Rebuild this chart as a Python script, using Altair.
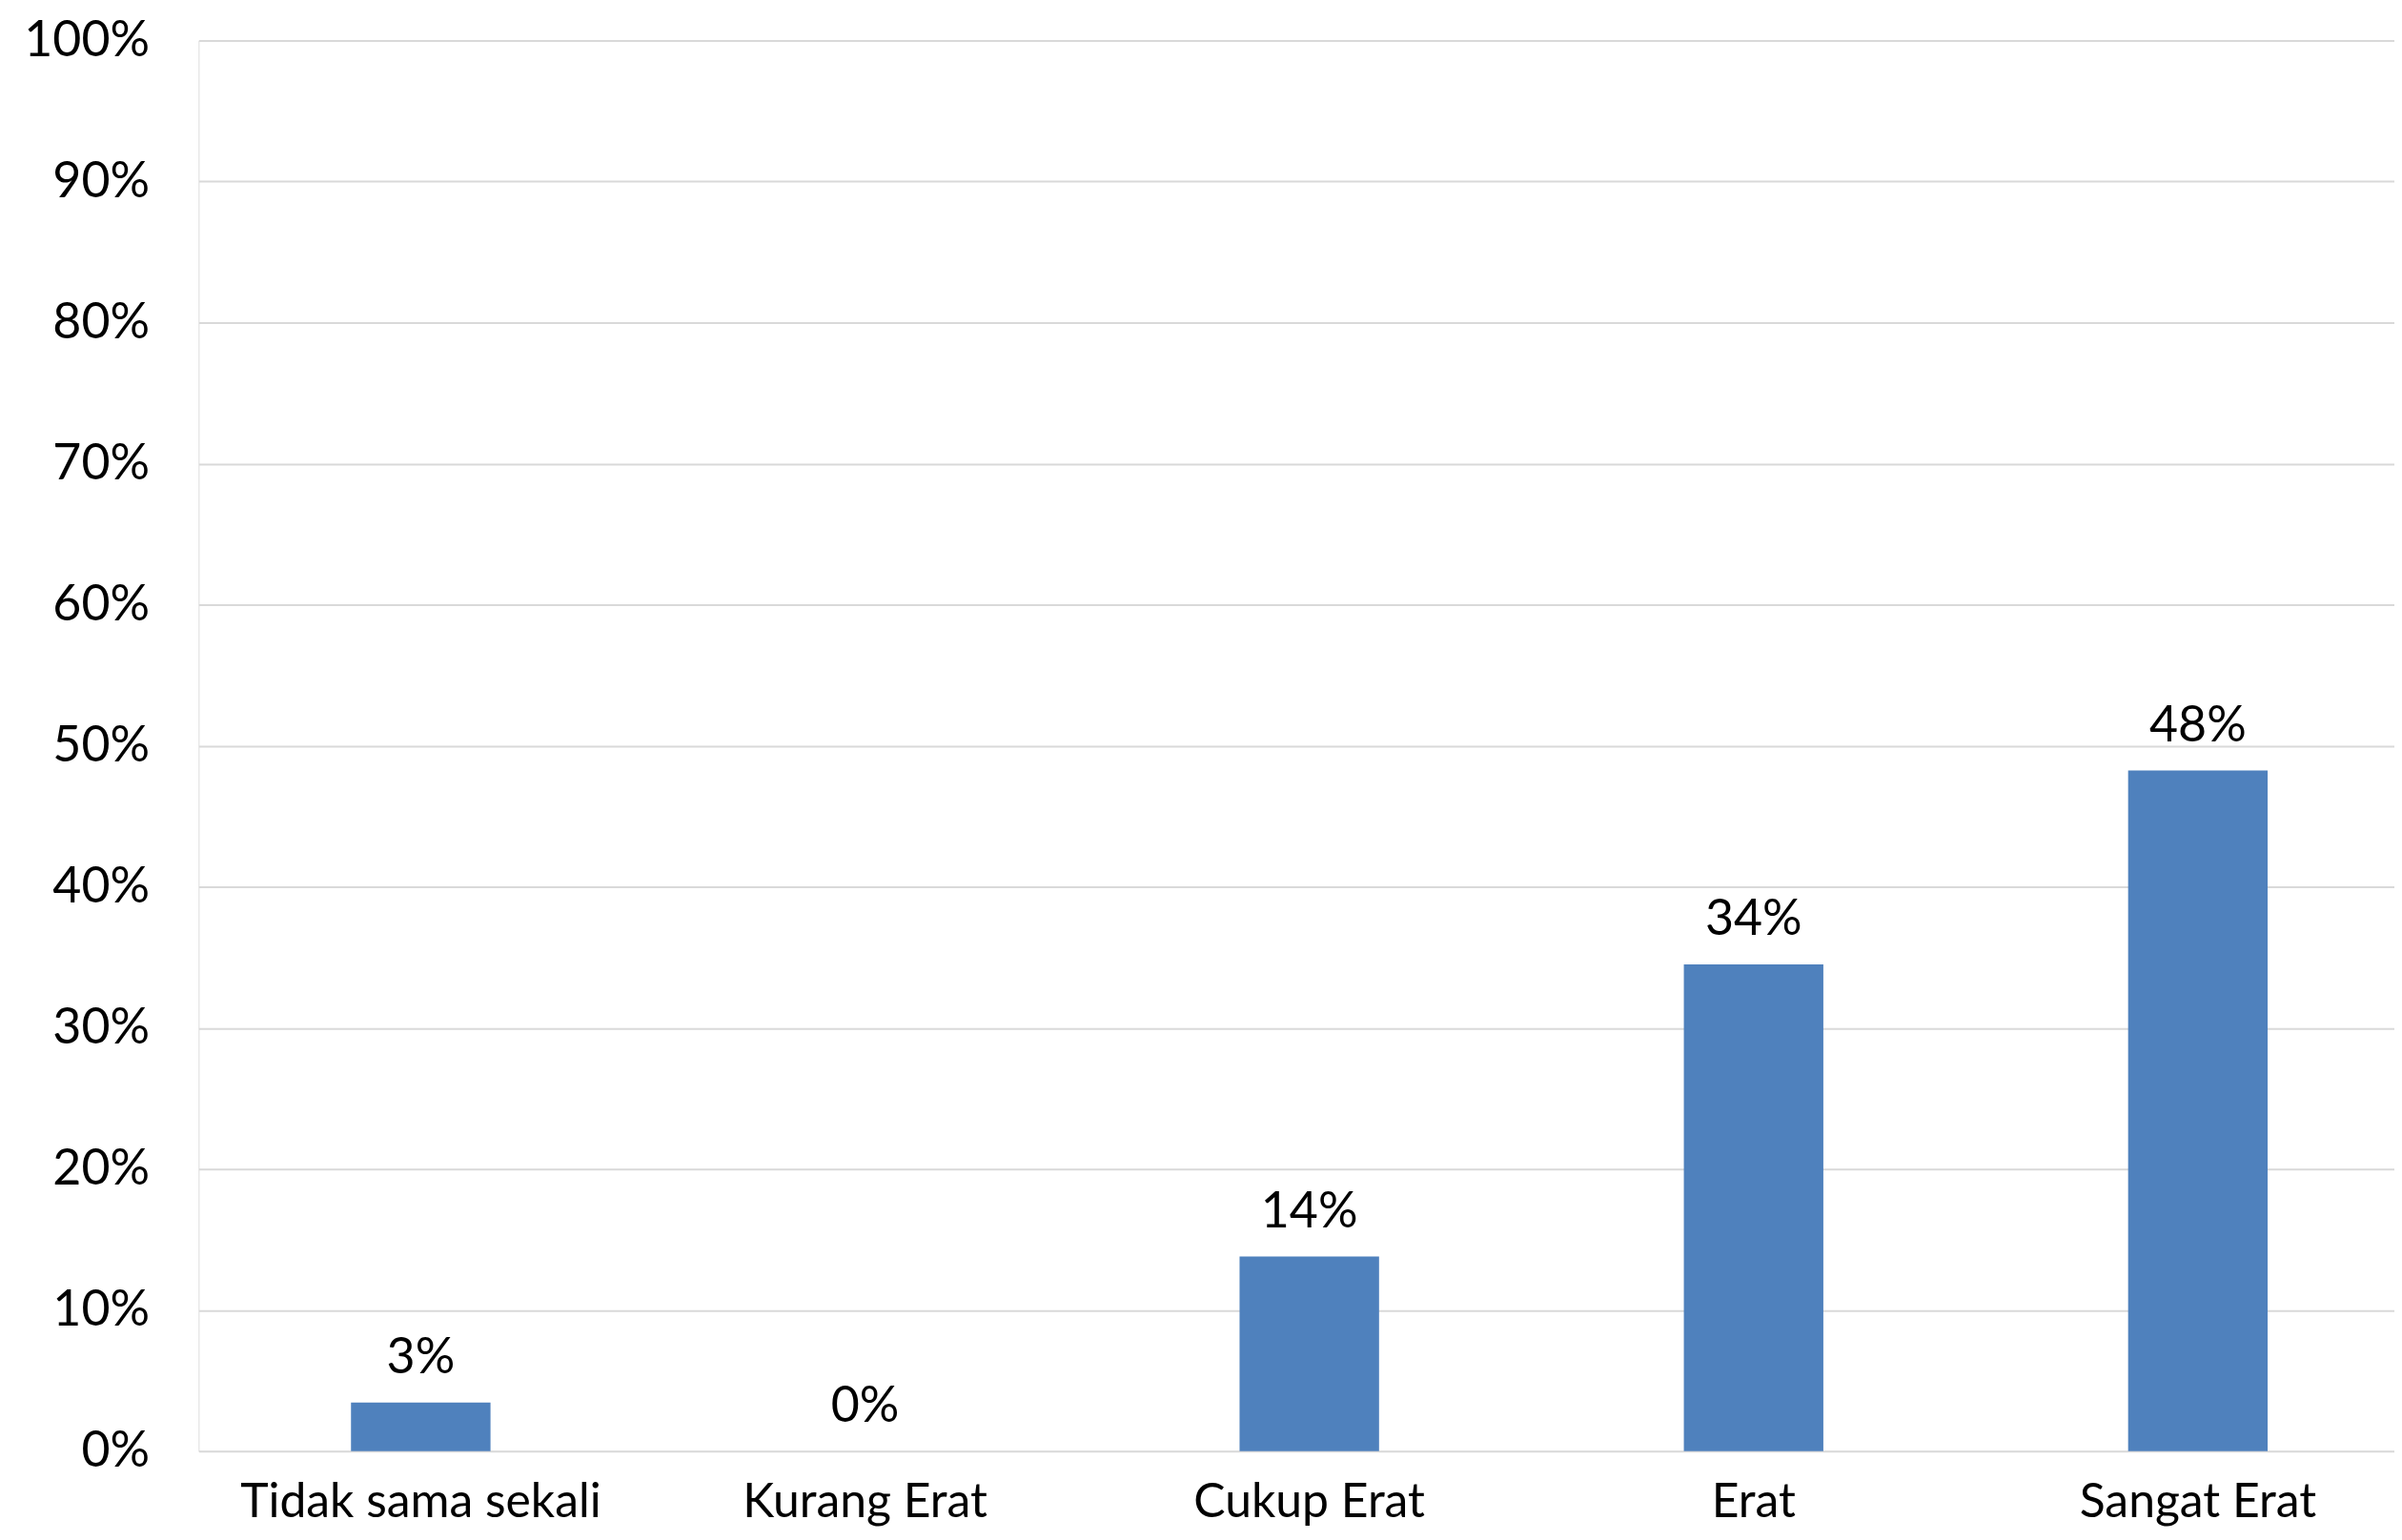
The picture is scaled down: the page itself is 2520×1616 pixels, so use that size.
import altair as alt
import pandas as pd

categories = ["Tidak sama sekali", "Kurang Erat", "Cukup Erat", "Erat", "Sangat Erat"]
values = [3.45, 0.0, 13.8, 34.5, 48.25]
labels = ["3%", "0%", "14%", "34%", "48%"]

df = pd.DataFrame({"cat": categories, "val": values, "lab": labels})

FONT = "Lato"
FS = 52

xscale = alt.Scale(range=[0, 2338], paddingInner=0.686, paddingOuter=0.343)

x = alt.X("cat:N", sort=categories, title=None, scale=xscale,
          axis=alt.Axis(labelAngle=0, labelFont=FONT, labelFontSize=50, labelColor="#000000",
                        labelPadding=29, labelLimit=0, ticks=False, domain=False, grid=False))
y = alt.Y("val:Q", title=None,
          scale=alt.Scale(domain=[0, 100], nice=False),
          axis=alt.Axis(values=list(range(0, 101, 10)), labelExpr="datum.value + '%'",
                        labelFont=FONT, labelFontSize=FS, labelColor="#000000",
                        labelPadding=52, ticks=False, domain=False,
                        grid=True, gridColor="#d9d9d9", gridWidth=2))

bars = alt.Chart(df).mark_bar(color="#4f81bd").encode(x=x, y=y)
text = alt.Chart(df).mark_text(baseline="bottom", dy=-20, font=FONT, fontSize=FS, color="#000000").encode(
    x=alt.X("cat:N", sort=categories, scale=xscale), y="val:Q", text="lab:N")

chart = (bars + text).properties(
    width=2311, height=1485,
    autosize=alt.AutoSizeParams(type="none"),
    padding={"left": 201, "top": 32, "right": 0, "bottom": 83},
).configure_view(stroke=None).configure(background="white")

chart.save("out.html", embed_options={"renderer": "svg", "actions": False})
